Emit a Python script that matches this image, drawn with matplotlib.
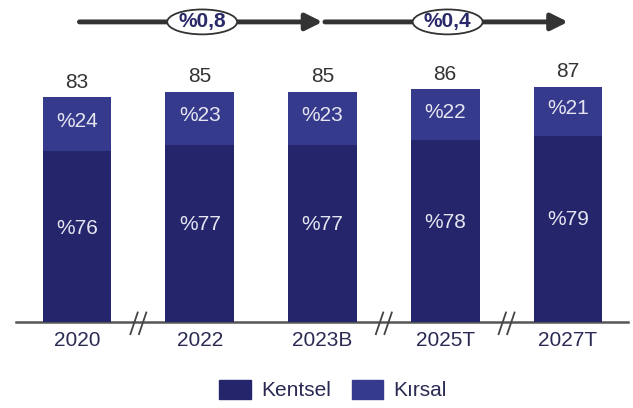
import numpy as np
import matplotlib
matplotlib.use('Agg')
import matplotlib.pyplot as plt
from matplotlib.patches import Ellipse, Patch

plt.rcParams['font.family'] = ['Liberation Sans', 'DejaVu Sans']

# Nüfus (milyon) ve kentsel/kırsal payları
yillar = ['2020', '2022', '2023B', '2025T', '2027T']
toplam = [83, 85, 85, 86, 87]
kentsel_pay = [76, 77, 77, 78, 79]
kirsal_pay = [24, 23, 23, 22, 21]
artis_etiket = ['%0,8', '%0,4']
artis_aralik = [(0, 2), (2, 4)]
kirik_yerler = [0.5, 2.5, 3.5]

renk_kentsel = '#25256c'
renk_kirsal = '#363a8c'

x = np.arange(len(yillar))
toplam = np.array(toplam, dtype=float)
kentsel = toplam * np.array(kentsel_pay) / 100
kirsal = toplam - kentsel

fig = plt.figure(figsize=(6.33, 4.08), dpi=100)
ax = fig.add_axes([0, 0, 1, 1])
ax.set_xlim(-0.627, 4.53)
ax.set_ylim(-31.8, 119.0)
ax.axis('off')

w = 0.56
ax.bar(x, kentsel, w, color=renk_kentsel, zorder=2)
ax.bar(x, kirsal, w, bottom=kentsel, color=renk_kirsal, zorder=2)

for i in range(len(x)):
    ax.annotate(str(int(toplam[i])), (x[i], toplam[i]), xytext=(0, 4),
                textcoords='offset points', ha='center', va='bottom',
                fontsize=15, color='#333333')
    ax.text(x[i], kentsel[i] + kirsal[i] * 0.55, '%' + str(kirsal_pay[i]),
            ha='center', va='center', fontsize=15, color='#e6e6f2', zorder=3)
    ax.text(x[i], kentsel[i] * 0.55, '%' + str(kentsel_pay[i]),
            ha='center', va='center', fontsize=15, color='#e6e6f2', zorder=3)
    ax.text(x[i], -7, yillar[i], ha='center', va='center', fontsize=15,
            color='#2a2a55')

# taban çizgisi ve kırık işaretleri
ax.plot([-0.5, 4.49], [0, 0], color='#555555', lw=1.8, zorder=1)
for k in kirik_yerler:
    for d in (-0.035, 0.035):
        ax.plot([k + d - 0.03, k + d + 0.03], [-4.5, 3.5], color='#444444',
                lw=1.3, zorder=3)

# büyüme okları
ya = 110.9
for (a, b), et in zip(artis_aralik, artis_etiket):
    ax.annotate('', xy=(b, ya), xytext=(a + 0.02, ya),
                arrowprops=dict(arrowstyle='-|>,head_length=1.0,head_width=0.5',
                                color='#333333', lw=3.5, shrinkA=0, shrinkB=0))
    xm = (a + b) / 2 + 0.02
    ax.add_patch(Ellipse((xm, ya), 0.57, 9.2, facecolor='white',
                         edgecolor='#333333', lw=1.3, zorder=4))
    ax.text(xm, ya, et, ha='center', va='center', fontsize=15,
            fontweight='bold', color='#2a2a6a', zorder=5)

handles = [Patch(color=renk_kentsel), Patch(color=renk_kirsal)]
fig.legend(handles, ['Kentsel', 'Kırsal'], loc='center',
           bbox_to_anchor=(333 / 633, 18 / 408), ncol=2, frameon=False,
           fontsize=15, handlelength=1.5, handleheight=1.05,
           handletextpad=0.5, columnspacing=1.0, labelcolor='#2a2a55')

plt.savefig('out.png', dpi=100)
